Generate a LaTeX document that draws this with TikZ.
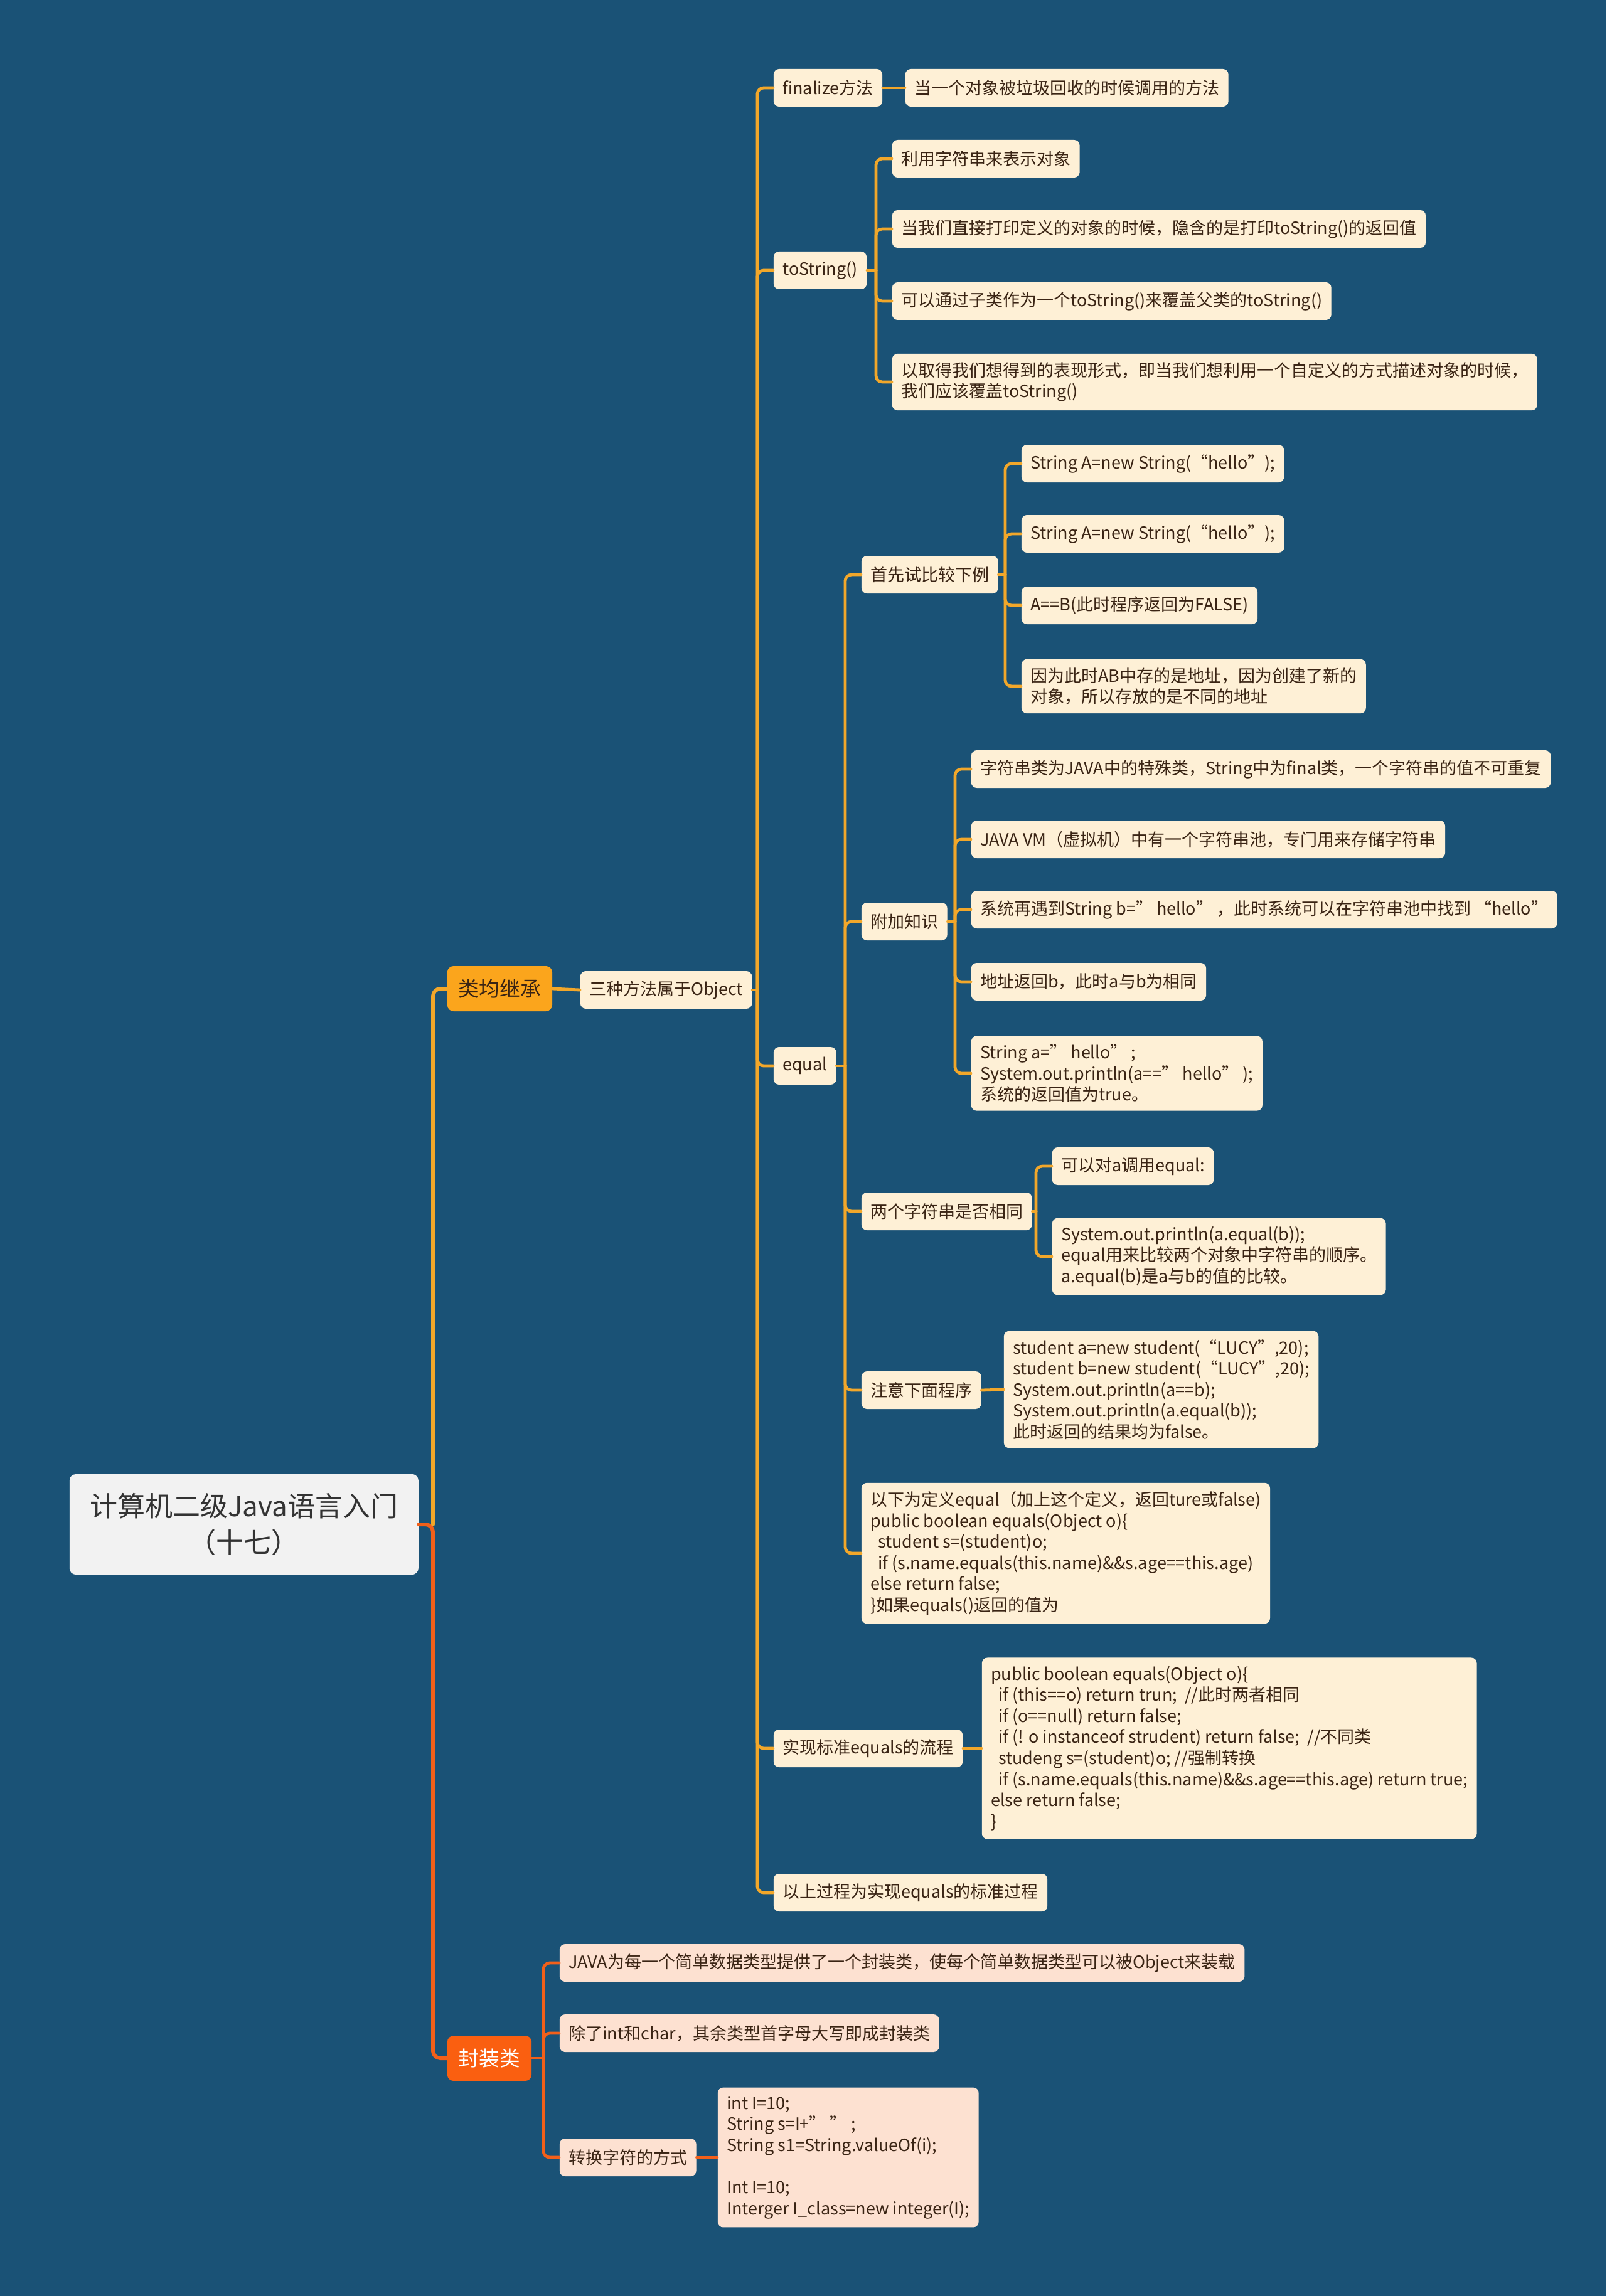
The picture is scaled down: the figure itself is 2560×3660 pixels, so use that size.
\documentclass[tikz,border=0pt]{standalone}
\usepackage{fontspec}
\setmainfont{Noto Sans CJK SC}

\definecolor{bgblue}{HTML}{1A5276}
\definecolor{lineorange}{HTML}{F2A72A}
\definecolor{linered}{HTML}{F2601A}
\definecolor{branchorange}{HTML}{FBA51C}
\definecolor{branchred}{HTML}{FA5F10}
\definecolor{cream}{HTML}{FEF0D6}
\definecolor{peach}{HTML}{FDE1D1}
\definecolor{ink}{HTML}{3A2414}
\definecolor{rootfill}{HTML}{F2F2F2}

\begin{document}
\begin{tikzpicture}[x=0.25pt, y=-0.25pt, line cap=round, line join=round,
    box/.style={fill=cream, text=ink, rounded corners=2.2pt, inner xsep=3.6pt, inner ysep=3.4pt,
      minimum height=15pt, anchor=west, align=left, font=\fontsize{6.75}{8.4}\selectfont},
    pbox/.style={box, fill=peach},
    branch/.style={rounded corners=2.5pt, inner xsep=4.5pt, minimum height=18pt, anchor=west,
      font=\fontsize{8.2}{10}\selectfont},
    twig/.style={draw=lineorange, line width=1.2pt, rounded corners=2.5pt},
    rtwig/.style={twig, draw=linered},
    trunk/.style={line width=1.5pt, rounded corners=3pt}]

    \fill[bgblue] (0,0) rectangle (2560,3660);
    \useasboundingbox (0,0) rectangle (2560,3660);

    % root and the two main branches
    \node[fill=rootfill, text=black!80, rounded corners=2.5pt, minimum width=139pt, minimum height=40pt,
      align=center, anchor=west, font=\fontsize{11}{14.6}\selectfont] (root) at (110,2430)
      {计算机二级Java语言入门\\（十七）};
    \node[branch, fill=branchorange, text=ink] (inh) at (712,1576) {类均继承};
    \node[branch, fill=branchred, text=white] (wrap) at (712,3281) {封装类};

    \node[box] (obj) at (924,1578) {三种方法属于Object};

    % three methods
    \node[box] (fin) at (1232,140) {finalize方法};
    \node[box] (tos) at (1232,431) {toString()};
    \node[box] (eq) at (1232,1699) {equal};
    \node[box] (std) at (1232,2787) {实现标准equals的流程};
    \node[box] (tail) at (1232,3017) {以上过程为实现equals的标准过程};

    \node[box] (finA) at (1442,140) {当一个对象被垃圾回收的时候调用的方法};

    \node[box] (tosA) at (1421,253) {利用字符串来表示对象};
    \node[box] (tosB) at (1421,365) {当我们直接打印定义的对象的时候，隐含的是打印toString()的返回值};
    \node[box] (tosC) at (1421,480) {可以通过子类作为一个toString()来覆盖父类的toString()};
    \node[box] (tosD) at (1421,609) {以取得我们想得到的表现形式，即当我们想利用一个自定义的方式描述对象的时候，\\我们应该覆盖toString()};

    % equal
    \node[box] (cmp) at (1372,916) {首先试比较下例};
    \node[box] (ext) at (1372,1469) {附加知识};
    \node[box] (same) at (1372,1931) {两个字符串是否相同};
    \node[box] (note) at (1372,2216) {注意下面程序};
    \node[box] (defeq) at (1372,2476) {以下为定义equal（加上这个定义，返回ture或false)\\
      public boolean equals(Object o)\{\\
      \hspace*{3pt}student s=(student)o;\\
      \hspace*{3pt}if (s.name.equals(this.name)\&\&s.age==this.age)\\
      else return false;\\
      \}如果equals()返回的值为};

    \node[box] (cmpA) at (1627,739) {String A=new String(“hello”);};
    \node[box] (cmpB) at (1627,851) {String A=new String(“hello”);};
    \node[box] (cmpC) at (1627,965) {A==B(此时程序返回为FALSE)};
    \node[box] (cmpD) at (1627,1094) {因为此时AB中存的是地址，因为创建了新的\\对象，所以存放的是不同的地址};

    \node[box] (extA) at (1547,1226) {字符串类为JAVA中的特殊类，String中为final类，一个字符串的值不可重复};
    \node[box] (extB) at (1547,1338) {JAVA VM（虚拟机）中有一个字符串池，专门用来存储字符串};
    \node[box] (extC) at (1547,1450) {系统再遇到String b=” hello” ，此时系统可以在字符串池中找到 “hello”};
    \node[box] (extD) at (1547,1565) {地址返回b，此时a与b为相同};
    \node[box] (extE) at (1547,1711) {String a=” hello” ;\\System.out.println(a==” hello” );\\系统的返回值为true。};

    \node[box] (sameA) at (1676,1859) {可以对a调用equal:};
    \node[box] (sameB) at (1676,2003) {System.out.println(a.equal(b));\\equal用来比较两个对象中字符串的顺序。\\a.equal(b)是a与b的值的比较。};

    \node[box] (noteA) at (1599,2215) {student a=new student(“LUCY”,20);\\student b=new student(“LUCY”,20);\\
      System.out.println(a==b);\\System.out.println(a.equal(b));\\此时返回的结果均为false。};

    \node[box] (stdA) at (1564,2787) {public boolean equals(Object o)\{\\
      \hspace*{3pt}if (this==o) return trun;\ \ //此时两者相同\\
      \hspace*{3pt}if (o==null) return false;\\
      \hspace*{3pt}if (! o instanceof strudent) return false;\ \ //不同类\\
      \hspace*{3pt}studeng s=(student)o; //强制转换\\
      \hspace*{3pt}if (s.name.equals(this.name)\&\&s.age==this.age) return true;\\
      else return false;\\
      \}};

    % wrapper classes
    \node[pbox] (wrapA) at (891,3129) {JAVA为每一个简单数据类型提供了一个封装类，使每个简单数据类型可以被Object来装载};
    \node[pbox] (wrapB) at (891,3241) {除了int和char，其余类型首字母大写即成封装类};
    \node[pbox] (conv) at (891,3439) {转换字符的方式};
    \node[pbox] (convA) at (1143,3439) {int I=10;\\String s=I+” ” ;\\String s1=String.valueOf(i);\\[8.4pt]
      Int I=10;\\Interger I\_class=new integer(I);};

    % connectors
    \coordinate (rootbus) at ([xshift=-5.5pt]inh.west |- root.east);
    \draw[trunk, draw=linered] (root.east) -- (rootbus) |- (wrap.west);
    \draw[trunk, draw=lineorange] (rootbus) |- (inh.west);

    \draw[twig] (inh.east) -- (obj.west);
    \coordinate (objbus) at ([xshift=-6.25pt]fin.west |- obj.east);
    \draw[twig] (obj.east) -- (objbus);
    \foreach \c in {fin,tos,eq,std,tail} \draw[twig] (objbus) |- (\c.west);

    \draw[twig] (fin.east) -- (finA.west);

    \coordinate (tosbus) at ([xshift=-6.25pt]tosA.west |- tos.east);
    \draw[twig] (tos.east) -- (tosbus);
    \foreach \c in {tosA,tosB,tosC,tosD} \draw[twig] (tosbus) |- (\c.west);

    \coordinate (eqbus) at ([xshift=-6.25pt]cmp.west |- eq.east);
    \draw[twig] (eq.east) -- (eqbus);
    \foreach \c in {cmp,ext,same,note,defeq} \draw[twig] (eqbus) |- (\c.west);

    \coordinate (cmpbus) at ([xshift=-6.25pt]cmpA.west |- cmp.east);
    \draw[twig] (cmp.east) -- (cmpbus);
    \foreach \c in {cmpA,cmpB,cmpC,cmpD} \draw[twig] (cmpbus) |- (\c.west);

    \coordinate (extbus) at ([xshift=-6.25pt]extA.west |- ext.east);
    \draw[twig] (ext.east) -- (extbus);
    \foreach \c in {extA,extB,extC,extD,extE} \draw[twig] (extbus) |- (\c.west);

    \coordinate (samebus) at ([xshift=-6.25pt]sameA.west |- same.east);
    \draw[twig] (same.east) -- (samebus);
    \foreach \c in {sameA,sameB} \draw[twig] (samebus) |- (\c.west);

    \draw[twig] (note.east) -- (noteA.west);
    \draw[twig] (std.east) -- (stdA.west);

    \coordinate (wrapbus) at ([xshift=-6.25pt]wrapA.west |- wrap.east);
    \draw[rtwig] (wrap.east) -- (wrapbus);
    \foreach \c in {wrapA,wrapB,conv} \draw[rtwig] (wrapbus) |- (\c.west);
    \draw[rtwig] (conv.east) -- (convA.west);
\end{tikzpicture}
\end{document}
